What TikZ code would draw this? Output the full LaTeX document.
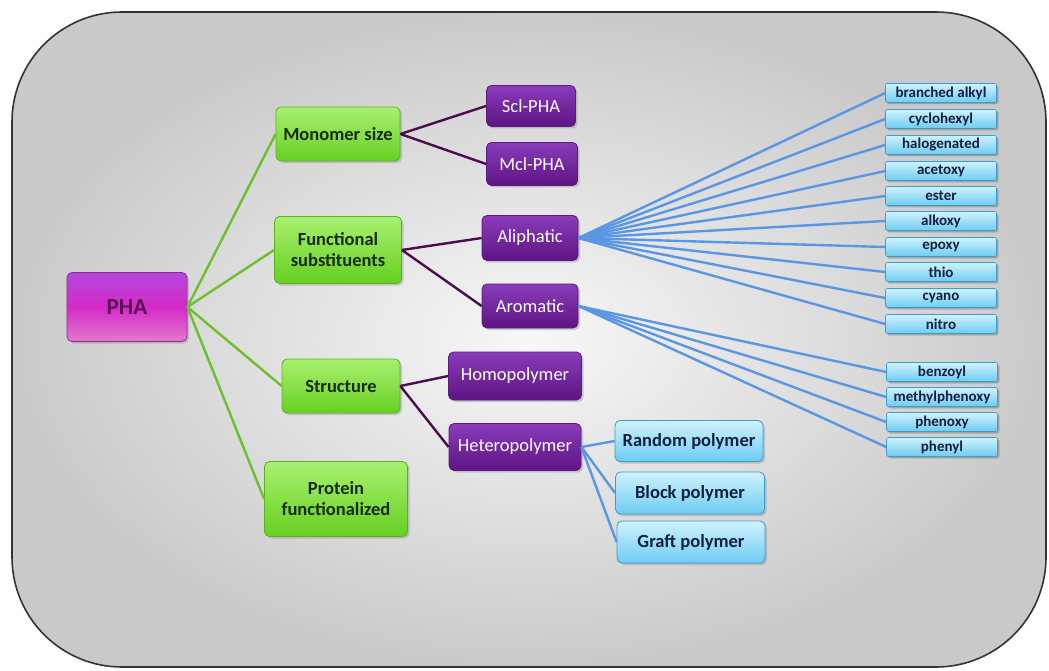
\documentclass[tikz,border=0pt]{standalone}
\usepackage{fontspec}
\setmainfont{Carlito}
\usetikzlibrary{shadows}
\definecolor{phaline}{HTML}{6CC02C}
\definecolor{phaplum}{HTML}{4A0C4C}
\definecolor{phablue}{HTML}{5A96E4}
\definecolor{phanavy}{HTML}{14203C}
\definecolor{rootdraw}{HTML}{8E2C8E}\definecolor{roottop}{HTML}{B448DC}
\definecolor{rootmid}{HTML}{D42AC8}\definecolor{rootbot}{HTML}{E27ACA}
\definecolor{roottext}{HTML}{5A1052}
\definecolor{grndraw}{HTML}{5CB020}\definecolor{grntop}{HTML}{A8F070}
\definecolor{grnbot}{HTML}{66D020}\definecolor{grntext}{HTML}{1A2A10}
\definecolor{plmdraw}{HTML}{5A1A80}\definecolor{plmtop}{HTML}{8A3CBA}
\definecolor{plmbot}{HTML}{5E1484}
\definecolor{bludraw}{HTML}{3C9CD0}\definecolor{blutop}{HTML}{CFF2FE}
\definecolor{blubot}{HTML}{6ECCF2}
\tikzset{
  phabox/.style={rounded corners=5pt,draw,line width=0.8pt,align=center,
    drop shadow={shadow xshift=2pt,shadow yshift=-2pt,opacity=0.35}},
  rootbox/.style={phabox,draw=rootdraw,top color=roottop,bottom color=rootbot,
    middle color=rootmid,text=roottext,font=\fontsize{23}{26}\selectfont\bfseries},
  grnbox/.style={phabox,draw=grndraw,top color=grntop,bottom color=grnbot,
    text=grntext,font=\fontsize{18.5}{21}\selectfont\bfseries},
  plmbox/.style={phabox,draw=plmdraw,top color=plmtop,bottom color=plmbot,
    text=white,font=\fontsize{18.5}{21}\selectfont},
  blubox/.style={phabox,draw=bludraw,top color=blutop,bottom color=blubot,
    text=phanavy,font=\fontsize{18.5}{21}\selectfont\bfseries},
  subbox/.style={blubox,line width=0.6pt,rounded corners=2pt,minimum width=111pt,
    minimum height=19pt,inner sep=0pt,font=\fontsize{15}{17}\selectfont\bfseries,
    drop shadow={shadow xshift=1.5pt,shadow yshift=-1.5pt,opacity=0.35}},
  grnline/.style={phaline,line width=2.4pt},
  plmline/.style={phaplum,line width=2.4pt},
  bluline/.style={phablue,line width=2.4pt}
}
\begin{document}
\begin{tikzpicture}[x=1pt,y=-1pt]
\useasboundingbox (0,0) rectangle (1049,671);
% background panel
\shade[inner color=gray!6,outer color=gray!42,draw=gray!40!black,line width=1.6pt,
  rounded corners=110pt] (12,12) rectangle (1046,667);
% root and first level
\node[rootbox,minimum width=120pt,minimum height=69pt] (pha) at (127,307) {PHA};
\node[grnbox,minimum width=124pt,minimum height=54pt] (monomer) at (338,134) {Monomer size};
\node[grnbox,minimum width=127pt,minimum height=67pt] (funct) at (338,250) {Functional\\substituents};
\node[grnbox,minimum width=118pt,minimum height=54pt] (struct) at (341,386) {Structure};
\node[grnbox,minimum width=143pt,minimum height=75pt] (protein) at (336,499) {Protein\\functionalized};
% second level
\node[plmbox,minimum width=89pt,minimum height=41pt] (scl) at (531,106) {Scl-PHA};
\node[plmbox,minimum width=91pt,minimum height=43pt] (mcl) at (532,164) {Mcl-PHA};
\node[plmbox,minimum width=96pt,minimum height=45pt] (aliph) at (530,238) {Aliphatic};
\node[plmbox,minimum width=96pt,minimum height=44pt] (arom) at (530,306) {Aromatic};
\node[plmbox,minimum width=133pt,minimum height=48pt] (homo) at (515,376) {Homopolymer};
\node[plmbox,minimum width=132pt,minimum height=47pt] (hetero) at (515,447) {Heteropolymer};
% third level
\node[blubox,minimum width=148pt,minimum height=41pt] (random) at (689,441) {Random polymer};
\node[blubox,minimum width=149pt,minimum height=42pt] (block) at (690,493) {Block polymer};
\node[blubox,minimum width=148pt,minimum height=42pt] (graft) at (691,542) {Graft polymer};
\foreach \lbl/\yy [count=\i] in {branched alkyl/93,cyclohexyl/119,halogenated/145,
  acetoxy/171,ester/196,alkoxy/221,epoxy/247,thio/272,cyano/298,nitro/324}
  \node[subbox] (ali\i) at (941,\yy) {\lbl};
\foreach \lbl/\yy [count=\i] in {benzoyl/372,methylphenoxy/397,phenoxy/422,phenyl/447}
  \node[subbox] (aro\i) at (942,\yy) {\lbl};
% connectors
\foreach \nm in {monomer,funct,struct,protein} \draw[grnline] (pha.east) -- (\nm.west);
\draw[plmline] (monomer.east) -- (scl.west) (monomer.east) -- (mcl.west)
  (funct.east) -- (aliph.west) (funct.east) -- (arom.west)
  (struct.east) -- (homo.west) (struct.east) -- (hetero.west);
\foreach \i in {1,...,10} \draw[bluline] (aliph.east) -- (ali\i.west);
\foreach \i in {1,...,4} \draw[bluline] (arom.east) -- (aro\i.west);
\foreach \nm in {random,block,graft} \draw[bluline] (hetero.east) -- (\nm.west);
\end{tikzpicture}
\end{document}
